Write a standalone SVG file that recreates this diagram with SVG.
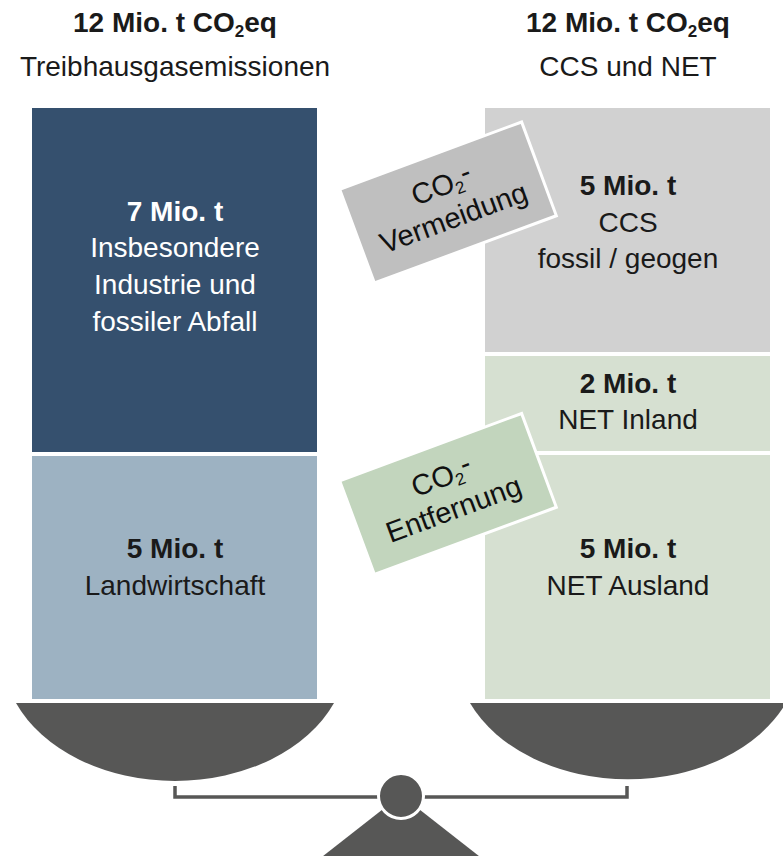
<svg xmlns="http://www.w3.org/2000/svg" width="783" height="856" viewBox="0 0 783 856">
<style>
  text { font-family: "Liberation Sans", Arial, sans-serif; font-size: 28px; text-anchor: middle; fill: #1a1a1a; }
  .b { font-weight: bold; }
  .w { fill: #ffffff; }
  .tag { font-size: 29px; fill: #111111; }
  .tagbox { stroke: #ffffff; stroke-width: 3; }
  .scale { fill: #575756; }
</style>
<rect width="783" height="856" fill="#ffffff"/>

<g id="header-left">
  <text class="b" x="175" y="32">12 Mio. t CO<tspan font-size="17" dy="5">2</tspan><tspan dy="-5">eq</tspan></text>
  <text x="175" y="76">Treibhausgasemissionen</text>
</g>
<g id="header-right">
  <text class="b" x="628" y="32">12 Mio. t CO<tspan font-size="17" dy="5">2</tspan><tspan dy="-5">eq</tspan></text>
  <text x="628" y="76">CCS und NET</text>
</g>

<g id="left-industry">
  <rect x="32" y="108" width="285" height="344" fill="#35506e"/>
  <text class="b w" x="175" y="221">7 Mio. t</text>
  <text class="w" x="175" y="257">Insbesondere</text>
  <text class="w" x="175" y="294">Industrie und</text>
  <text class="w" x="175" y="331">fossiler Abfall</text>
</g>
<g id="left-agriculture">
  <rect x="32" y="456" width="285" height="243" fill="#9db2c2"/>
  <text class="b" x="175" y="558">5 Mio. t</text>
  <text x="175" y="595">Landwirtschaft</text>
</g>

<g id="right-ccs">
  <rect x="485" y="108" width="285" height="244" fill="#d1d1d1"/>
  <text class="b" x="628" y="195">5 Mio. t</text>
  <text x="628" y="232">CCS</text>
  <text x="628" y="268">fossil / geogen</text>
</g>
<g id="right-net-inland">
  <rect x="485" y="356" width="285" height="95" fill="#d6e0d1"/>
  <text class="b" x="628" y="393">2 Mio. t</text>
  <text x="628" y="429">NET Inland</text>
</g>
<g id="right-net-ausland">
  <rect x="485" y="455" width="285" height="244" fill="#d6e0d1"/>
  <text class="b" x="628" y="558">5 Mio. t</text>
  <text x="628" y="595">NET Ausland</text>
</g>

<g id="tag-vermeidung" transform="translate(448 202.5) rotate(-20.3)">
  <rect class="tagbox" x="-97" y="-50" width="194" height="100" fill="#bfbfbf"/>
  <text class="tag" x="0" y="-8">CO<tspan font-size="17" dy="4">2</tspan><tspan dy="-9">-</tspan></text>
  <text class="tag" x="0" y="26">Vermeidung</text>
</g>
<g id="tag-entfernung" transform="translate(448 494) rotate(-20.3)">
  <rect class="tagbox" x="-97" y="-50" width="194" height="100" fill="#c2d5bd"/>
  <text class="tag" x="0" y="-8">CO<tspan font-size="17" dy="4">2</tspan><tspan dy="-9">-</tspan></text>
  <text class="tag" x="0" y="26">Entfernung</text>
</g>

<g id="scale">
  <path class="scale" d="M16 703 A172 126 0 0 0 334 703 Z"/>
  <path class="scale" d="M470 703 A172 126 0 0 0 786 703 Z"/>
  <path d="M175 786 V797 H627 V786" fill="none" stroke="#575756" stroke-width="3.5"/>
  <polygon class="scale" points="318,860 401,795 484,860"/>
  <circle cx="401" cy="796" r="22.5" fill="#575756" stroke="#ffffff" stroke-width="3"/>
</g>
</svg>
